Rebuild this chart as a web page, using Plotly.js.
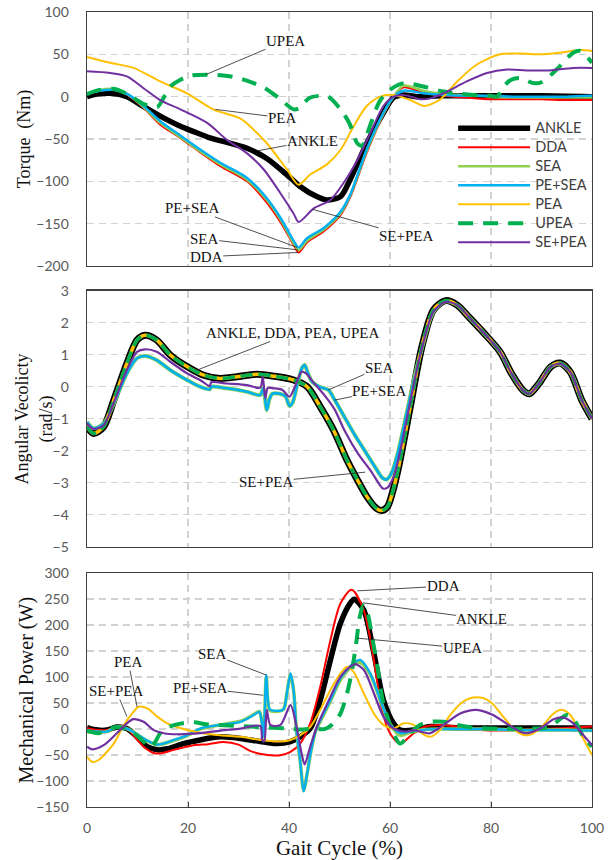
<!DOCTYPE html>
<html><head><meta charset="utf-8">
<script src="https://cdn.plot.ly/plotly-3.0.1.min.js"></script>
<style>html,body{margin:0;padding:0;background:#fff}#chart{width:613px;height:860px}</style>
</head><body><div id="chart"></div>
<script>
// ---------- Torque (Nm) ----------
const tqAnkleX = [0, 2, 4.6, 7.9, 11, 14.5, 18.5, 21, 24, 27.7, 31.7, 35.6, 40.3, 42.2, 45.5, 47.5, 50.2, 52.1, 55.4, 58.7, 60.7, 62.7, 65.3, 70, 80, 90, 100];
const tqAnkle  = [0, 3, 4, 0, -11, -23, -35, -41, -48, -54, -61, -73, -96, -106, -118, -122, -118, -98, -55, -19, -1, 2, 0, 1, 1, 1, 0];
const tqGroupX = [0, 2.5, 5.5, 8, 11, 14.5, 17.8, 21.1, 26.4, 31.7, 35.6, 38.3, 40.9, 41.9, 43.6, 46.9, 50.2, 52.1, 55.4, 58.7, 60.7, 62.7, 66.6, 70.6, 75, 80, 85, 90, 95, 100];
const tqDDA    = [3, 7, 8, 2, -12, -33, -46, -60, -82, -100, -125, -148, -175, -184, -172, -159, -140, -119, -66, -21, 0, 11, 5, 1, -1, -3, -3, -3, -4, -4];
const tqSEA    = [3, 8, 9, 3, -11, -31, -45, -59, -80, -98, -122, -145, -173, -181, -170, -157, -138, -117, -64, -20, 0, 13, 7, 3, 2, 0, -1, -1, -1, -1];
const tqPESEA  = [3, 7, 8, 3, -10, -29, -43, -57, -78, -96, -120, -143, -170, -178, -167, -155, -136, -116, -62, -19, 0, 7, 4, 2, 1, 1, 0, 0, 0, 1];
const tqPEAX   = [0, 4.6, 9.2, 14.5, 19.8, 25, 30.4, 33, 35.6, 39.6, 41.9, 44.2, 47.5, 50.2, 52.8, 55.4, 58.1, 60.7, 64, 66.8, 70, 73.3, 77.2, 81.8, 85.8, 89.7, 93.7, 97.7, 100];
const tqPEA    = [47, 40, 34, 18, 4, -15, -26, -39, -55, -86, -104, -92, -80, -63, -35, -11, 0, 2, -4, -11, -3, 18, 38, 50, 51, 50, 52, 55, 54];
const tqUPEAX  = [0, 2.5, 5.5, 8, 11, 13, 14, 15.3, 16.5, 18.5, 20.5, 23.8, 27, 30, 33, 35, 38.3, 40.9, 42.2, 43.9, 46, 47.8, 50.2, 52, 53.5, 54.5, 56, 58, 60, 62.7, 66.6, 70.6, 76.5, 80, 81.2, 82.5, 84, 85.8, 88.4, 90, 93, 96.3, 97.7, 100];
const tqUPEA   = [3, 8, 9, 3, -8, -12, -12, 0, 12, 20, 25, 26, 25, 22, 16, 11, -3, -15, -13, -2, 1, 0, -15, -32, -55, -58, -35, -5, 8, 16, 12, 6, 2, 1, 0, 12, 20, 22, 16, 17, 32, 52, 54, 40];
const tqSEPEAX = [0, 4.6, 7.9, 11.2, 14.5, 18.5, 23.8, 27.7, 31.7, 35, 38.3, 40.9, 41.9, 44.9, 48.2, 50.8, 53.5, 56.1, 58.7, 60.7, 62.7, 66, 68, 70.6, 75.2, 79.2, 83.2, 87.1, 91, 96.3, 100];
const tqSEPEA  = [30, 28, 24, 10, -4, -15, -31, -51, -67, -86, -114, -138, -148, -132, -122, -102, -75, -43, -11, 0, 2, -3, -2, 4, 18, 28, 32, 31, 31, 34, 34];

// ---------- Angular velocity (rad/s) ----------
const velAnkleX = [0, 1.3, 3.3, 5.3, 7.9, 9.9, 11.5, 13.8, 16.5, 19.8, 23.1, 26.4, 29.7, 33.7, 37, 40.9, 43.6, 46.2, 48.8, 51.5, 53.5, 55.5, 57.3, 58.3, 59.5, 60.5, 61.7, 64, 66.3, 68.6, 71, 73.3, 75.6, 78.7, 81.8, 84.1, 86.4, 87.6, 89.5, 91.8, 93.7, 95.7, 98, 100];
const velAnkle  = [-1.25, -1.46, -1.25, -0.42, 0.73, 1.46, 1.61, 1.46, 0.99, 0.63, 0.36, 0.26, 0.31, 0.39, 0.33, 0.21, 0, -0.63, -1.35, -2.3, -2.9, -3.45, -3.8, -3.87, -3.75, -3.3, -2.52, -0.64, 1.24, 2.4, 2.69, 2.55, 2.18, 1.66, 1.09, 0.4, -0.12, -0.22, 0.1, 0.62, 0.74, 0.46, -0.43, -1.0];
const velPESEAX = [0, 1.3, 3.3, 5.3, 7.9, 9.9, 11.5, 13.8, 16.5, 19.8, 22.4, 24.3, 24.6, 27.7, 31.7, 34.3, 34.9, 35.6, 36.1, 36.7, 38.2, 39.3, 40.1, 40.7, 41.7, 42.6, 43.1, 43.8, 44.6, 46, 47.8, 49, 51, 53, 55, 57, 58.5, 59.3, 60.3, 61.5, 63.2, 65, 66.3, 68.6, 71, 73.3, 75.6, 78.7, 81.8, 84.1, 86.4, 87.6, 89.5, 91.8, 93.7, 95.7, 98, 100];
const velPESEA  = [-1.1, -1.3, -1.15, -0.52, 0.42, 0.89, 0.96, 0.83, 0.52, 0.21, 0, -0.08, 0.0, -0.05, -0.16, -0.26, -0.05, -0.73, -0.4, -0.22, -0.22, -0.3, -0.6, -0.5, 0.1, 0.6, 0.68, 0.4, 0.15, 0.0, -0.1, -0.4, -0.95, -1.5, -2.0, -2.5, -2.85, -2.9, -2.7, -2.1, -0.9, 0.4, 1.2, 2.35, 2.67, 2.55, 2.18, 1.66, 1.09, 0.4, -0.12, -0.22, 0.1, 0.62, 0.72, 0.46, -0.43, -1.0];
const velSEPEAX = [0, 1.3, 3.3, 5.3, 7.9, 9.9, 11.5, 13.8, 16.5, 19.8, 22.4, 24.3, 24.6, 27.7, 31.7, 34.3, 34.8, 35.3, 35.8, 37, 38.7, 40.1, 41.3, 42.5, 43.5, 44.5, 47.2, 49, 51.1, 53.7, 56.3, 58.6, 59.5, 60.9, 63.2, 65, 66.3, 68.6, 71, 73.3, 75.6, 78.7, 81.8, 84.1, 86.4, 87.6, 89.5, 91.8, 93.7, 95.7, 98, 100];
const velSEPEA  = [-1.15, -1.32, -1.2, -0.5, 0.52, 1.09, 1.17, 1.09, 0.78, 0.42, 0.21, 0.02, 0.14, 0.1, 0.05, -0.03, 0.31, -0.36, -0.04, -0.05, -0.1, -0.31, 0.05, 0.47, 0.4, 0.2, -0.3, -0.7, -1.4, -2.1, -2.65, -3.18, -3.15, -2.73, -1.1, 0.3, 1.2, 2.35, 2.65, 2.55, 2.18, 1.66, 1.09, 0.4, -0.12, -0.22, 0.1, 0.62, 0.72, 0.46, -0.43, -1.0];

// ---------- Mechanical power (W) ----------
const pwAnkleX = [0, 1.3, 3.9, 5.9, 7.9, 9.9, 11.9, 13.9, 15.9, 19.1, 22.4, 26.4, 30.4, 34.3, 37.6, 40.3, 42.2, 44.2, 46.2, 48.2, 50.2, 52.1, 52.9, 54.8, 56.8, 58.7, 60.7, 62, 64.7, 68, 72, 80, 90, 100];
const pwAnkle  = [3, -1, -2, 4, 1, -15, -34, -40, -38, -28, -21, -15, -18, -24, -28, -24, -15, 1, 56, 133, 204, 242, 250, 229, 146, 56, 11, -2, -2, 5, 3, 2, 2, 2];
const pwDDAX   = [0, 1.3, 3.9, 5.9, 7.9, 9.9, 11.2, 13.2, 14.5, 17.2, 21.1, 24, 27, 30, 32.3, 34.5, 36.9, 38.5, 40.3, 42.2, 44.2, 46.2, 48.2, 50.2, 52.4, 54.8, 56.8, 58.4, 60, 62, 64.7, 67, 70, 74, 78, 82, 86, 90, 95, 100];
const pwDDA    = [2, -1, -2, 4, 1, -20, -34, -46, -47, -40, -31, -29, -25, -30, -42, -48, -51, -50, -44, -28, 11, 82, 171, 242, 268, 229, 133, 37, -8, -28, -8, 5, 8, 4, -2, -3, -2, 0, 2, 5];
const pwSEAX   = [0, 1.3, 3.9, 5.9, 7.9, 9.9, 11.2, 13.9, 17.2, 19.8, 22.4, 26.4, 30.4, 33, 34.1, 34.6, 35.0, 35.5, 36.2, 37.5, 38.9, 39.6, 40.3, 40.9, 41.5, 42.2, 42.9, 43.6, 44.4, 45.3, 46.2, 48.2, 50.2, 52.8, 54.1, 56.1, 58.1, 60, 62, 64, 67, 70, 75, 80, 85, 90, 95, 100];
const pwSEA    = [-5, -6, -5, 4, 1, -10, -19, -30, -22, -13, 0, 8, 15, 28, 34, 15, -15, 100, 36, 34, 38, 70, 105, 75, -5, -60, -118, -85, -40, -3, 15, 54, 95, 124, 128, 105, 55, 10, -12, -6, -1, 0, 0, 0, -2, -2, -2, -3];
const pwPESEA  = [-2, -4, -5, 4, 1, -10, -18, -30, -21, -12, 1, 8, 14, 27, 33, 15, -15, 104, 38, 35, 38, 70, 107, 75, -5, -60, -120, -85, -40, -3, 17, 56, 98, 127, 133, 107, 56, 11, -8, -5, -1, 0, 0, 0, -2, -2, -2, -3];
const pwPEAX   = [0, 1, 2.2, 5.3, 7.3, 9.2, 10.2, 11.9, 13.9, 15.9, 19.1, 22.4, 26.4, 30.4, 34.3, 37.6, 40.3, 42.2, 44.2, 46.2, 48.2, 50.2, 51.5, 52.8, 54.8, 56.8, 58.7, 60.7, 62.7, 64.7, 65.9, 67.9, 69.9, 71.9, 74.5, 77.2, 79.8, 82.4, 85.1, 87.4, 89.7, 92.4, 94, 95.7, 97.7, 100];
const pwPEA    = [-53, -63, -60, -28, 8, 33, 43, 40, 24, 11, 0, -7, -12, -15, -21, -24, -21, -12, 4, 37, 75, 107, 120, 110, 69, 30, 8, 1, 11, 8, -5, -15, -2, 27, 53, 61, 53, 24, -5, -12, 1, 30, 37, 27, -8, -50];
const pwUPEAX  = [0, 2.2, 5.9, 9.2, 11.2, 12.5, 13.5, 14.5, 16.2, 18.8, 21, 24, 28, 32, 36, 40, 42.2, 44.9, 47, 48.8, 50.2, 51.5, 52.5, 53.3, 54, 54.7, 55.5, 56.5, 57.5, 58.7, 60.7, 62, 64, 65.9, 67.9, 70.6, 73.3, 76.5, 80.4, 88.4, 91.7, 93.5, 95, 96.3, 98.3, 100];
const pwUPEA   = [-3, -8, 4, -8, -24, -35, -25, -8, 4, 11, 13, 9, 7, 5, 3, 1, -1, 1, 0, 11, 30, 69, 114, 165, 215, 238, 225, 175, 120, 49, -8, -28, -8, 8, 14, 14, 8, 3, 1, 1, 4, 18, 27, 20, -15, -34];
const pwSEPEAX = [0, 1, 3.3, 5.9, 7.9, 9.2, 11.2, 13.2, 15.2, 17.8, 22.4, 26.4, 30.4, 34.3, 34.7, 35.1, 35.6, 36.3, 38.3, 40.3, 41.5, 42.5, 43.1, 44.2, 45.5, 48.2, 50.2, 52.1, 53.1, 54.8, 56.8, 58.7, 60.7, 63.3, 64.6, 67.9, 70.6, 73.9, 77.2, 80.4, 83, 85.8, 87.1, 89.7, 92.4, 94.4, 96.3, 98.3, 100];
const pwSEPEA  = [-34, -39, -31, -8, 11, 19, 14, -2, -8, -10, -8, -3, 1, 6, -21, -24, 37, 8, 8, 46, 4, -47, -68, -34, 4, 62, 101, 120, 125, 114, 69, 24, 1, -5, -2, -8, 8, 30, 37, 27, 11, -5, -8, 1, 19, 22, 11, -12, -31];

// ---------- labels ----------
const seriesNames = ['ANKLE', 'DDA', 'SEA', 'PE+SEA', 'PEA', 'UPEA', 'SE+PEA'];
const colors = {ANKLE: '#000000', DDA: '#FF0000', SEA: '#92D050', 'PE+SEA': '#00B0F0', PEA: '#FFC000', UPEA: '#00B050', 'SE+PEA': '#7030A0'};
const yTitles = ['Torque&nbsp; (Nm)', 'Angular Vecolicty<br>(rad/s)', 'Mechanical Power (W)'];
const xTitle = 'Gait Cycle (%)';

function line(x, y, name, xa, ya, width, dash, legend) {
  return {
    type: 'scatter', mode: 'lines', x: x, y: y,
    name: '<span style="font-size:14.5px">' + name + '</span>',
    xaxis: xa, yaxis: ya, showlegend: !!legend,
    line: {color: colors[name], width: width, dash: dash || 'solid', shape: 'spline', smoothing: 0.8},
    hoverinfo: 'skip'
  };
}

const traces = [
  // Top: torque
  line(tqAnkleX, tqAnkle, 'ANKLE', 'x', 'y', 5.5, null, true),
  line(tqGroupX, tqDDA, 'DDA', 'x', 'y', 2, null, true),
  line(tqGroupX, tqSEA, 'SEA', 'x', 'y', 2.5, null, true),
  line(tqGroupX, tqPESEA, 'PE+SEA', 'x', 'y', 2.5, null, true),
  line(tqPEAX, tqPEA, 'PEA', 'x', 'y', 2, null, true),
  line(tqUPEAX, tqUPEA, 'UPEA', 'x', 'y', 4, '15px,10px', true),
  line(tqSEPEAX, tqSEPEA, 'SE+PEA', 'x', 'y', 2, null, true),
  // Middle: angular velocity
  line(velAnkleX, velAnkle, 'ANKLE', 'x2', 'y2', 7),
  line(velAnkleX, velAnkle, 'DDA', 'x2', 'y2', 2),
  line(velPESEAX, velPESEA, 'SEA', 'x2', 'y2', 4),
  line(velPESEAX, velPESEA, 'PE+SEA', 'x2', 'y2', 2.6),
  line(velAnkleX, velAnkle, 'PEA', 'x2', 'y2', 3.5),
  line(velAnkleX, velAnkle, 'UPEA', 'x2', 'y2', 3.5, '12px,6px'),
  line(velSEPEAX, velSEPEA, 'SE+PEA', 'x2', 'y2', 2.2),
  // Bottom: power
  line(pwAnkleX, pwAnkle, 'ANKLE', 'x3', 'y3', 5.5),
  line(pwDDAX, pwDDA, 'DDA', 'x3', 'y3', 2),
  line(pwSEAX, pwSEA, 'SEA', 'x3', 'y3', 3.5),
  line(pwSEAX, pwPESEA, 'PE+SEA', 'x3', 'y3', 2.4),
  line(pwPEAX, pwPEA, 'PEA', 'x3', 'y3', 2),
  line(pwUPEAX, pwUPEA, 'UPEA', 'x3', 'y3', 4, '15px,10px'),
  line(pwSEPEAX, pwSEPEA, 'SE+PEA', 'x3', 'y3', 2.2)
];

const serif = 'Liberation Serif, Times New Roman, serif';
const sans = 'Lato, Open Sans, sans-serif';
const axisCommon = {
  showgrid: true, gridcolor: '#d2d2d2', griddash: '7px,5px', gridwidth: 1.4,
  zeroline: false, showline: true, mirror: true, linecolor: '#404040', linewidth: 1.4,
  ticks: '', tickfont: {family: sans, size: 14, color: '#595959'}, fixedrange: true
};
function xa(anchor, labels) {
  return Object.assign({}, axisCommon, {anchor: anchor, domain: [0, 1], range: [0, 100], dtick: 20, tick0: 0,
    showticklabels: labels, ticks: labels ? 'inside' : '', ticklen: 5, tickcolor: '#404040', ticklabelstandoff: 8,
    title: labels ? {text: xTitle, font: {family: serif, size: 21, color: '#111'}, standoff: 0} : undefined});
}
function ya(anchor, domain, range, dtick) {
  return Object.assign({}, axisCommon, {anchor: anchor, domain: domain, range: range, dtick: dtick,
    ticklabelstandoff: 14});
}

function ann(xr, yr, text, tx, ty, hx, hy) {
  return {xref: xr, yref: yr, axref: xr, ayref: yr, x: hx, y: hy, ax: tx, ay: ty, text: text,
    showarrow: true, arrowhead: 0, arrowwidth: 0.8, arrowcolor: '#222', standoff: 0, startstandoff: 0,
    font: {family: serif, size: 15, color: '#111'}, borderpad: 0};
}
function ytitle(text, x, y, size) {
  return {xref: 'paper', yref: 'paper', x: x, y: y, xanchor: 'center', yanchor: 'middle', textangle: -90,
    showarrow: false, text: text, font: {family: serif, size: size, color: '#111'}};
}

const annotations = [
  ytitle(yTitles[0], -0.122, 0.8403, 18),
  ytitle(yTitles[1], -0.104, 0.488, 18),
  ytitle(yTitles[2], -0.12, 0.147, 20),
  ann('x', 'y', 'UPEA', 39.3, 66, 23.5, 26),
  ann('x', 'y', 'PEA', 38.7, -25, 25.4, -15),
  ann('x', 'y', 'ANKLE', 44.6, -52, 33.7, -64),
  ann('x', 'y', 'PE+SEA', 20.8, -132, 41.6, -178),
  ann('x', 'y', 'SEA', 23.2, -168, 41.8, -181),
  ann('x', 'y', 'DDA', 23.6, -189, 41.8, -184),
  ann('x', 'y', 'SE+PEA', 63.2, -164, 44.6, -133),
  ann('x2', 'y2', 'ANKLE, DDA, PEA, UPEA', 40.6, 1.68, 21.8, 0.52),
  ann('x2', 'y2', 'SEA', 57.9, 0.59, 47.8, -0.1),
  ann('x2', 'y2', 'PE+SEA', 57.9, -0.13, 49, -0.42),
  ann('x2', 'y2', 'SE+PEA', 35.5, -2.98, 55.1, -2.67),
  ann('x3', 'y3', 'DDA', 70.5, 275, 53.5, 266),
  ann('x3', 'y3', 'ANKLE', 78.2, 212, 54.7, 243),
  ann('x3', 'y3', 'UPEA', 74.3, 156, 53.5, 175),
  ann('x3', 'y3', 'SEA', 24.8, 144, 35.5, 104),
  ann('x3', 'y3', 'PE+SEA', 22.4, 79, 34.9, 65),
  ann('x3', 'y3', 'PEA', 8.2, 129, 9.9, 43),
  ann('x3', 'y3', 'SE+PEA', 5.8, 73, 7.9, 24)
];

const layout = {
  width: 613, height: 860,
  margin: {l: 87, r: 21, t: 12, b: 53},
  paper_bgcolor: '#fff', plot_bgcolor: '#fff',
  showlegend: true,
  legend: {x: 0.725, y: 0.872, xanchor: 'left', yanchor: 'top', bgcolor: 'rgba(0,0,0,0)',
    font: {family: sans, size: 11, color: '#404040'}, itemwidth: 72, tracegroupgap: 0, traceorder: 'normal'},
  xaxis: xa('y', false),
  xaxis2: xa('y2', false),
  xaxis3: xa('y3', true),
  yaxis: ya('x', [0.6805, 1], [-200, 100], 50),
  yaxis2: ya('x2', [0.3274, 0.6494], [-5, 3], 1),
  yaxis3: ya('x3', [0, 0.2941], [-150, 300], 50),
  annotations: annotations
};

Plotly.newPlot('chart', traces, layout, {staticPlot: true});
</script></body></html>
